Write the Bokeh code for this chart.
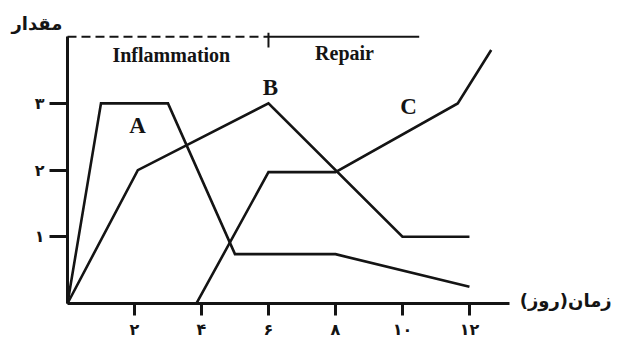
from bokeh.plotting import figure
from bokeh.models import Range1d, Label, FixedTicker
from bokeh.embed import file_html
from bokeh.resources import INLINE

# ---- data ----
a_x = [0, 1.0, 3.0, 5.0, 8.0, 12.0]
a_y = [0, 3.0, 3.0, 0.74, 0.74, 0.25]
b_x = [0, 2.1, 6.0, 10.0, 12.0]
b_y = [0, 2.0, 3.0, 1.0, 1.0]
c_x = [3.85, 6.0, 8.0, 11.65, 12.65]
c_y = [0, 1.97, 1.97, 3.0, 3.8]

x_ticks = [2, 4, 6, 8, 10, 12]
x_tick_labels = ["۲", "۴", "۶", "۸", "۱۰", "۱۲"]
y_ticks = [1, 2, 3]
y_tick_labels = ["۱", "۲", "۳"]

phase_level = 4.0
inflam_x = [0, 6.0]
repair_x = [6.0, 10.5]
phase_tick_y = [3.84, 4.06]

ink = "#141414"

p = figure(width=615, height=341, x_range=Range1d(-2.0, 16.36), y_range=Range1d(-0.57, 4.543),
           output_backend="svg", toolbar_location=None,
           min_border_left=0, min_border_bottom=0, min_border_right=0, min_border_top=0)
p.outline_line_color = None
p.xgrid.visible = False
p.ygrid.visible = False
p.background_fill_color = "white"
p.border_fill_color = "white"

for ax, ticks, labels, bnd in ((p.xaxis[0], x_ticks, x_tick_labels, (0, 13.2)),
                               (p.yaxis[0], y_ticks, y_tick_labels, (0, 4.0))):
    ax.fixed_location = 0
    ax.ticker = FixedTicker(ticks=ticks)
    ax.major_label_overrides = {t: l for t, l in zip(ticks, labels)}
    ax.bounds = bnd
    ax.axis_line_width = 3
    ax.axis_line_color = ink
    ax.major_tick_line_width = 3
    ax.major_tick_line_color = ink
    ax.major_tick_in = 0
    ax.minor_tick_line_color = None
    ax.major_label_text_font = "DejaVu Sans"
    ax.major_label_text_font_style = "bold"
    ax.major_label_text_font_size = "16px"
    ax.major_label_text_color = ink

p.xaxis.major_tick_out = 12
p.xaxis.major_label_standoff = 5
p.yaxis.major_tick_out = 18
p.yaxis.major_label_standoff = 5

for xs, ys in ((a_x, a_y), (b_x, b_y), (c_x, c_y)):
    p.line(xs, ys, line_width=2.6, line_color=ink, line_join="miter")

p.line(inflam_x, [phase_level] * 2, line_width=2, line_color=ink, line_dash="9 5")
p.line(repair_x, [phase_level] * 2, line_width=2, line_color=ink)
p.line([repair_x[0]] * 2, phase_tick_y, line_width=2, line_color=ink)

serif = dict(text_font="Liberation Serif", text_font_style="bold", text_color=ink,
             text_align="center", text_baseline="middle")
p.add_layout(Label(x=3.1, y=3.72, text="Inflammation", text_font_size="20px", **serif))
p.add_layout(Label(x=8.27, y=3.75, text="Repair", text_font_size="20px", **serif))
p.add_layout(Label(x=2.09, y=2.67, text="A", text_font_size="23px", **serif))
p.add_layout(Label(x=6.06, y=3.24, text="B", text_font_size="23px", **serif))
p.add_layout(Label(x=10.18, y=2.95, text="C", text_font_size="23px", **serif))

fa = dict(text_font="DejaVu Sans", text_font_style="bold", text_color=ink,
          text_baseline="middle")
p.add_layout(Label(x=13.5, y=0.05, text="زمان(روز)", text_align="left",
                   text_font_size="18px", **fa))
p.add_layout(Label(x=-0.15, y=4.2, text="مقدار", text_align="right",
                   text_font_size="18px", **fa))

open("out.html", "w").write(file_html(p, INLINE))
